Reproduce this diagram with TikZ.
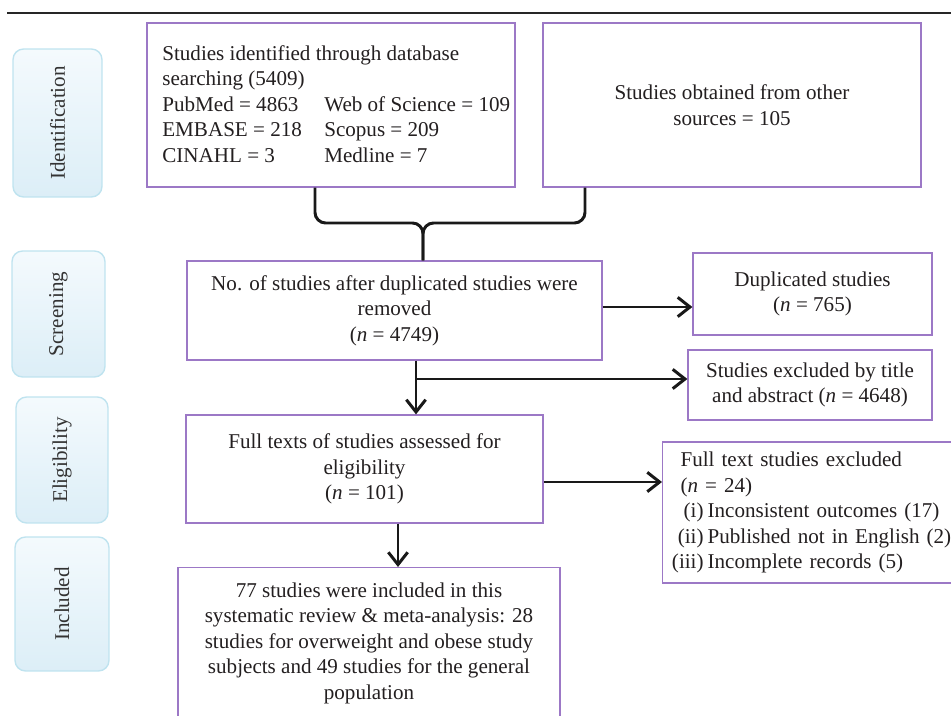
\documentclass[tikz,border=0pt]{standalone}
\usepackage{fontspec}
\setmainfont{Liberation Serif}
\usepackage{graphicx}
\usetikzlibrary{arrows.meta,calc}
\definecolor{boxpurple}{HTML}{9C78C6}
\definecolor{stageline}{HTML}{BFE3EF}
\definecolor{stagetop}{HTML}{F4FAFD}
\definecolor{stagebot}{HTML}{DCEEF7}
\definecolor{inktext}{HTML}{231F20}
\tikzset{
	flowbox/.style={draw=boxpurple, line width=0.7pt, fill=white, align=center, inner sep=0pt, font=\fontsize{12}{14.5}\selectfont, text=inktext},
	flowtext/.style={align=left, inner sep=0pt, font=\fontsize{12}{14.5}\selectfont, text=inktext},
	stagebox/.style={draw=stageline, line width=0.8pt, rounded corners=6pt, top color=stagetop, bottom color=stagebot, font=\fontsize{12}{14.5}\selectfont, text=black!80},
	thickline/.style={line width=1.7pt, black!90},
	flowarrow/.style={thickline, -{Straight Barb[length=7pt,width=11pt]}}
}

\begin{document}
\begin{tikzpicture}[x=0.02cm, y=-0.02cm]
			%%%%% START %%%%%
			\useasboundingbox (0,0) rectangle (951,716);
			\clip (0,0) rectangle (951,716);
			
			\draw[line width=0.8pt, black!85] (7,13) -- (951,13);
			
			\node[stagebox, minimum width=1.78cm, minimum height=2.96cm] (ident) at (57.5,123) {\rotatebox{90}{Identification}};
			\node[stagebox, minimum width=1.86cm, minimum height=2.52cm] (screen) at (58.5,314) {\rotatebox{90}{Screening}};
			\node[stagebox, minimum width=1.84cm, minimum height=2.52cm] (elig) at (62,460) {\rotatebox{90}{Eligibility}};
			\node[stagebox, minimum width=1.88cm, minimum height=2.68cm] (incl) at (62,604) {\rotatebox{90}{Included}};
			
			\node[flowbox, minimum width=7.36cm, minimum height=3.28cm] (dbase) at (331,105) {};
			\node[flowtext, anchor=west] (dbasetext) at (162,104) {Studies identified through database\\ searching (5409)\\ \makebox[3.24cm][l]{PubMed = 4863}Web of Science = 109\\ \makebox[3.24cm][l]{EMBASE = 218}Scopus = 209\\ \makebox[3.24cm][l]{CINAHL = 3}Medline = 7};
			
			\node[flowbox, minimum width=7.56cm, minimum height=3.28cm] (other) at (732,105) {Studies obtained from other\\ sources = 105};
			
			\node[flowbox, minimum width=8.30cm, minimum height=1.98cm] (dedup) at (394.5,310.5) {No. of studies after duplicated studies were\\ removed\\ (\textit{n} = 4749)};
			\node[flowbox, minimum width=4.78cm, minimum height=1.64cm] (dupl) at (812.5,294) {Duplicated studies\\ (\textit{n} = 765)};
			\node[flowbox, minimum width=4.88cm, minimum height=1.40cm] (titleexcl) at (810,385) {Studies excluded by title\\ and abstract (\textit{n} = 4648)};
			\node[flowbox, minimum width=7.14cm, minimum height=2.16cm] (fulltext) at (364.5,469) {Full texts of studies assessed for\\ eligibility\\ (\textit{n} = 101)};
			\node[flowbox, anchor=west, minimum height=2.82cm, align=left, text width=6.08cm, inner xsep=0.06cm] (fullexcl) at (662,512.5) {\hspace*{0.3cm}Full text studies excluded\\ \hspace*{0.3cm}(\textit{n} = 24)\\ \makebox[0.76cm][r]{(i)}\hspace{0.08cm}Inconsistent outcomes (17)\\ \makebox[0.76cm][r]{(ii)}\hspace{0.08cm}Published not in English (2)\\ \makebox[0.76cm][r]{(iii)}\hspace{0.08cm}Incomplete records (5)};
			\node[flowbox, anchor=north, minimum width=7.64cm, minimum height=3.02cm] (final) at (369,567) {77 studies were included in this\\ systematic review \& meta-analysis: 28\\ studies for overweight and obese study\\ subjects and 49 studies for the general\\ population};
			
			% brace joining the two sources
			\coordinate (bracetip) at (423,223);
			\coordinate (bleft) at (315,0);
			\coordinate (bright) at (585,0);
			\draw[thickline, rounded corners=6pt] (bleft |- dbase.south) |- (bracetip) -- (bracetip |- dedup.north);
			\draw[thickline, rounded corners=6pt] (bright |- other.south) |- (bracetip) -- (bracetip |- dedup.north);
			
			\coordinate (duprow) at (0,307);
			\coordinate (split) at (416,379);
			\coordinate (fullrow) at (0,482);
			\coordinate (finalcol) at (398,0);
			\draw[flowarrow] (dedup.east |- duprow) -- (dupl.west |- duprow);
			\draw[flowarrow] (split |- dedup.south) -- (split |- fulltext.north);
			\draw[flowarrow] (split) -- (split -| titleexcl.west);
			\draw[flowarrow] (fulltext.east |- fullrow) -- (fullexcl.west |- fullrow);
			\draw[flowarrow] (finalcol |- fulltext.south) -- (finalcol |- final.north);
			
			%%%%% END %%%%%
\end{tikzpicture}
\end{document}
